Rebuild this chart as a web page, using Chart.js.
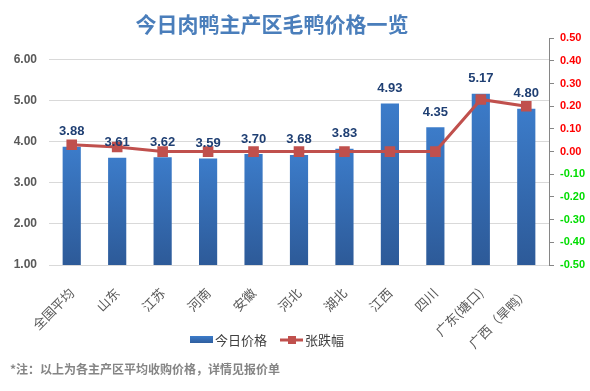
<!DOCTYPE html>
<html>
<head>
<meta charset="utf-8">
<script src="https://cdn.jsdelivr.net/npm/chart.js@4"></script>
<style>
  html, body { margin: 0; padding: 0; background: #fff; }
  #wrap { width: 590px; height: 391px; position: relative; }
</style>
</head>
<body>
<div id="wrap"><canvas id="myChart"></canvas></div>
<script>
var categories = ['全国平均', '山东', '江苏', '河南', '安徽', '河北', '湖北', '江西', '四川', '广东(塘口)', '广西（旱鸭）'];
var prices = [3.88, 3.61, 3.62, 3.59, 3.70, 3.68, 3.83, 4.93, 4.35, 5.17, 4.80];
var changes = [0.03, 0.02, 0.00, 0.00, 0.00, 0.00, 0.00, 0.00, 0.00, 0.23, 0.20];

var titleText = '今日肉鸭主产区毛鸭价格一览';
var noteText = '*注：以上为各主产区平均收购价格，详情见报价单';

var cjk = '"Noto Sans CJK SC", "Noto Sans", sans-serif';
var num = '"Liberation Sans", Arial, sans-serif';

function barFill(context) {
    var chart = context.chart;
    if (!chart.chartArea || !chart.scales.y) return '#3570b8';
    var top = chart.scales.y.getPixelForValue(prices[context.dataIndex]);
    var g = chart.ctx.createLinearGradient(0, top, 0, chart.chartArea.bottom);
    g.addColorStop(0, '#3c7cca');
    g.addColorStop(1, '#2d5a98');
    return g;
}

// value labels above the bars
var barLabels = {
    id: 'barLabels',
    afterDatasetsDraw: function (chart) {
        var ctx = chart.ctx;
        var meta = chart.getDatasetMeta(0);
        ctx.save();
        ctx.font = 'bold 13px ' + num;
        ctx.fillStyle = '#1f3f73';
        ctx.textAlign = 'center';
        ctx.textBaseline = 'middle';
        meta.data.forEach(function (bar, i) {
            ctx.fillText(prices[i].toFixed(2), bar.x, bar.y - 15);
        });
        ctx.restore();
    }
};

// title sits a bit left of centre, footnote is indented
var shiftText = {
    id: 'shiftText',
    afterLayout: function (chart) {
        chart.boxes.forEach(function (b) {
            if (!b.options) return;
            if (b.options.text === titleText) { b.left -= 46; }
            if (b.options.text === noteText) { b.left += 10; }
        });
    }
};

// legend drawn like the original (line with square marker)
var customLegend = {
    id: 'customLegend',
    afterDraw: function (chart) {
        var ctx = chart.ctx;
        var y = 340;
        var x = 190;
        ctx.save();
        ctx.font = '13px ' + cjk;
        ctx.textBaseline = 'middle';
        var g = ctx.createLinearGradient(0, y - 4, 0, y + 4);
        g.addColorStop(0, '#3c7cca');
        g.addColorStop(1, '#2d5a98');
        ctx.fillStyle = g;
        ctx.fillRect(x, y - 4, 23, 7);
        ctx.fillStyle = '#404040';
        ctx.fillText(chart.data.datasets[0].label, x + 25, y);
        x = x + 25 + ctx.measureText(chart.data.datasets[0].label).width + 13;
        ctx.strokeStyle = '#c0504d';
        ctx.lineWidth = 3;
        ctx.beginPath();
        ctx.moveTo(x, y);
        ctx.lineTo(x + 23, y);
        ctx.stroke();
        ctx.fillStyle = '#c0504d';
        ctx.fillRect(x + 8, y - 4, 8, 8);
        ctx.fillStyle = '#404040';
        ctx.fillText(chart.data.datasets[1].label, x + 25, y);
        ctx.restore();
    }
};

new Chart(document.getElementById('myChart'), {
    type: 'bar',
    data: {
        labels: categories,
        datasets: [
            {
                label: '今日价格',
                data: prices,
                backgroundColor: barFill,
                categoryPercentage: 1,
                barPercentage: 0.4,
                yAxisID: 'y',
                order: 2
            },
            {
                type: 'line',
                label: '张跌幅',
                data: changes,
                borderColor: '#c0504d',
                backgroundColor: '#c0504d',
                borderWidth: 3,
                pointStyle: 'rect',
                pointRadius: 7.5,
                pointBackgroundColor: '#c0504d',
                pointBorderWidth: 0,
                tension: 0,
                yAxisID: 'y1',
                order: 1
            }
        ]
    },
    options: {
        responsive: true,
        maintainAspectRatio: false,
        animation: false,
        layout: { padding: 0 },
        plugins: {
            legend: { display: false },
            tooltip: { enabled: false },
            title: {
                display: true,
                text: titleText,
                color: '#4a7ebb',
                font: { family: cjk, size: 21, weight: 'bold', lineHeight: 1.2 },
                padding: { top: 11, bottom: 2 }
            },
            subtitle: {
                display: true,
                position: 'bottom',
                align: 'start',
                text: noteText,
                color: '#858585',
                font: { family: cjk, size: 12, weight: 'bold', lineHeight: 1.2 },
                padding: { top: 0, bottom: 14 }
            }
        },
        scales: {
            x: {
                grid: { display: false },
                border: { display: false },
                ticks: {
                    autoSkip: false,
                    maxRotation: 45,
                    minRotation: 45,
                    padding: 12,
                    color: '#595959',
                    font: { family: cjk, size: 13 }
                },
                afterFit: function (scale) { scale.height = 97.6; }
            },
            y: {
                position: 'left',
                min: 1,
                max: 6.52,
                border: { display: false },
                grid: { color: '#d9d9d9', drawTicks: false },
                ticks: {
                    stepSize: 1,
                    includeBounds: false,
                    padding: 12,
                    color: '#595959',
                    font: { family: num, size: 12, weight: 'bold' },
                    callback: function (v) { return v.toFixed(2); }
                },
                afterFit: function (scale) { scale.width = 49; }
            },
            y1: {
                position: 'right',
                min: -0.5,
                max: 0.5,
                border: { display: true, color: '#868686' },
                grid: { drawOnChartArea: false, color: '#868686', tickLength: 5 },
                ticks: {
                    stepSize: 0.1,
                    padding: 6,
                    color: function (c) { return c.tick.value < -0.001 ? '#00dd00' : '#ff0000'; },
                    font: { family: num, size: 11, weight: 'bold' },
                    callback: function (v) { return (Math.abs(v) < 1e-9 ? 0 : v).toFixed(2); }
                },
                afterFit: function (scale) { scale.width = 41; }
            }
        }
    },
    plugins: [barLabels, shiftText, customLegend]
});
</script>
</body>
</html>
